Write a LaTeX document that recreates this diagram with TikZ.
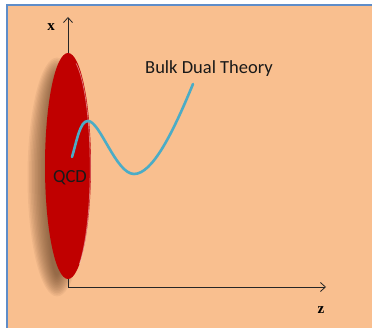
\documentclass[tikz,border=0pt]{standalone}
\usepackage{fontspec}
\newfontfamily\calib{Carlito}
\newfontfamily\tnr{Liberation Serif}
\usetikzlibrary{arrows.meta}
\definecolor{peach}{HTML}{F9BF8F}
\definecolor{frameblue}{HTML}{5F8DC8}
\definecolor{qcdred}{HTML}{C00000}
\definecolor{curveblue}{HTML}{4BACC6}
\definecolor{shadowbrown}{HTML}{6A4528}
\tikzset{
  axis/.style={line width=0.8pt, black!85, -{Straight Barb[length=5pt,width=9pt]}},
  axlabel/.style={font=\tnr\bfseries\fontsize{15}{17}\selectfont, inner sep=0pt},
  cal/.style={font=\calib\fontsize{18.5}{20}\selectfont, inner sep=0pt, text=black!90},
}
\begin{document}
\begin{tikzpicture}[x=1pt,y=-1pt]
\useasboundingbox (0,0) rectangle (372,328);
\fill[white] (0,0) rectangle (372,328);
\fill[peach] (6,4) rectangle (374,330);
\draw[frameblue, line width=1.6pt] (374,4.8) -- (6.8,4.8) -- (6.8,330);
% shadow
\foreach \i in {1,...,14}{
  \fill[shadowbrown, opacity=0.075] (57,177) ellipse ({31-1.5*\i} and {121-1.6*\i});
}
% ellipse
\fill[qcdred] (68,166) ellipse (23 and 113);
\draw[white, opacity=0.45, line width=0.8pt] (68,166) ++(60:23 and 113) arc[start angle=60, end angle=-70, x radius=21.5, y radius=111];
% axes
\coordinate (O) at (68,287);
\coordinate (xt) at (68,17);
\coordinate (zt) at (326,287);
\draw[axis] (68,53) -- (xt);
\draw[line width=0.8pt, black!85] (68,279) -- (O);
\draw[axis] (O) -- (zt);
\node[axlabel] (xl) at (51,27) {x};
\node[axlabel] (zl) at (321,310) {z};
% curve
\coordinate (c0) at (72,157);
\coordinate (c1) at (88,121);
\coordinate (c2) at (134,174);
\coordinate (c3) at (193,84);
\draw[curveblue, line width=2.6pt, line cap=round]
  (c0) .. controls (77,140) and (80,121) .. (c1)
  .. controls (100,121) and (116,174) .. (c2)
  .. controls (152,174) and (172,135) .. (c3);
\node[cal] (bulk) at (209,69) {Bulk Dual Theory};
\node[cal] (qcd) at (70,178) {QCD};
\end{tikzpicture}
\end{document}
